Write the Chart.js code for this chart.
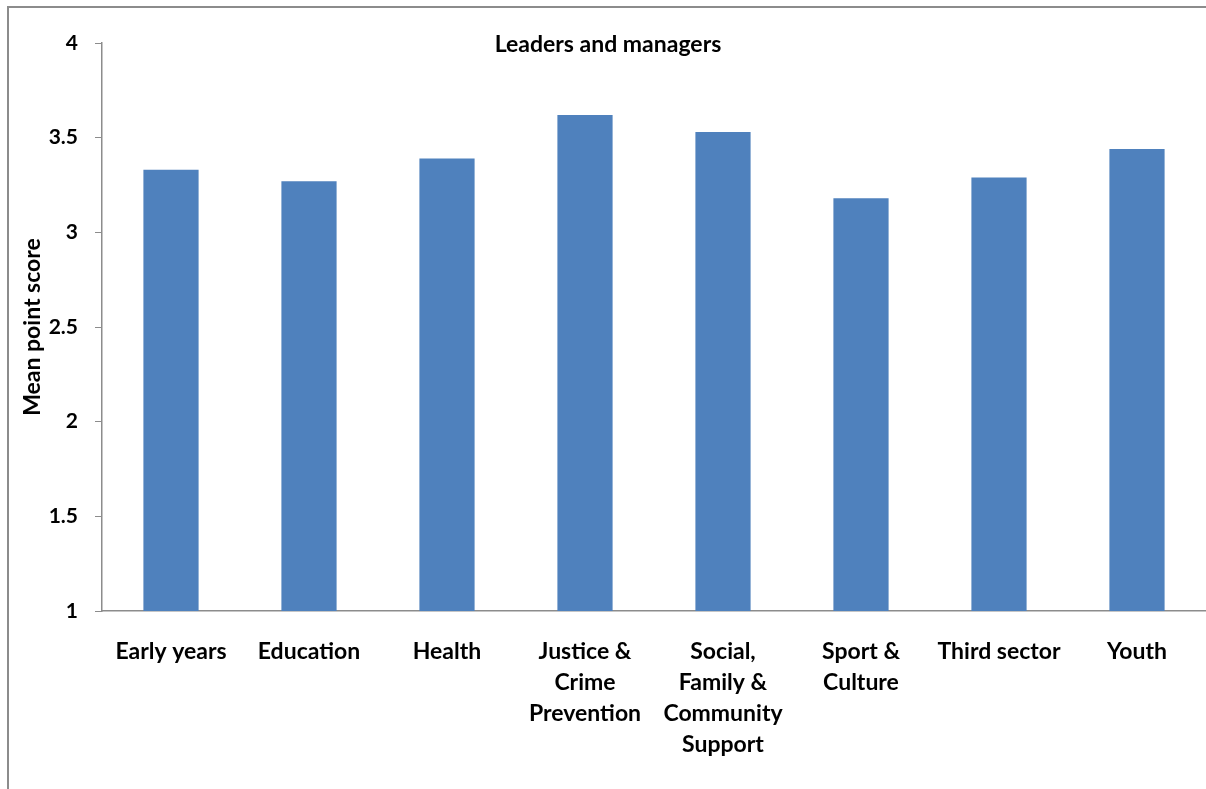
<!DOCTYPE html>
<html>
<head>
<meta charset="utf-8">
<script src="https://cdn.jsdelivr.net/npm/chart.js@4"></script>
<style>
    html, body { margin: 0; padding: 0; background: #fff; }
    .frame {
        position: absolute;
        left: 7px;
        top: 6px;
        width: 1199px;
        height: 783px;
        border-left: 2px solid #8c8c8c;
        border-top: 2px solid #8c8c8c;
    }
    .chart-box { position: absolute; left: 0; top: 0; width: 1197px; height: 781px; }
</style>
</head>
<body>
<div class="frame">
    <div class="chart-box"><canvas id="scoreChart"></canvas></div>
</div>
<script>
// Sectors along the x axis
const categories = [
    'Early years',
    'Education',
    'Health',
    ['Justice &', 'Crime', 'Prevention'],
    ['Social,', 'Family &', 'Community', 'Support'],
    ['Sport &', 'Culture'],
    'Third sector',
    'Youth'
];
// Mean point score for leaders and managers
const meanScores = [3.33, 3.27, 3.39, 3.62, 3.53, 3.18, 3.29, 3.44];
const yTicks = [1, 1.5, 2, 2.5, 3, 3.5, 4];
const chartTitle = 'Leaders and managers';
const yTitle = 'Mean point score';

const fontFamily = 'Lato, "Open Sans", sans-serif';
const axisColor = '#8c8c8c';

// Draw the title inside the plot, level with the top tick
const titlePlugin = {
    id: 'innerTitle',
    afterDraw(chart) {
        const ctx = chart.ctx;
        ctx.save();
        ctx.font = `bold 23px ${fontFamily}`;
        ctx.fillStyle = '#000';
        ctx.textAlign = 'center';
        ctx.textBaseline = 'middle';
        ctx.fillText(chartTitle, 599, 37);
        ctx.restore();
    }
};

const ctx = document.getElementById('scoreChart').getContext('2d');
new Chart(ctx, {
    type: 'bar',
    data: {
        labels: categories,
        datasets: [{
            data: meanScores,
            backgroundColor: '#4f81bd',
            borderWidth: 0,
            barPercentage: 0.4,
            categoryPercentage: 1
        }]
    },
    options: {
        responsive: true,
        maintainAspectRatio: false,
        animation: false,
        layout: { padding: { top: 35, right: 0, bottom: 0, left: 0 } },
        plugins: {
            legend: { display: false },
            tooltip: { enabled: false }
        },
        scales: {
            x: {
                grid: { display: false, drawTicks: false },
                border: { color: axisColor, width: 1.5 },
                ticks: {
                    color: '#000',
                    padding: 25,
                    maxRotation: 0,
                    autoSkip: false,
                    font: { family: fontFamily, size: 23, weight: 'bold', lineHeight: 1.35 }
                },
                afterFit(scale) { scale.height = 178; }
            },
            y: {
                min: 1,
                max: 4,
                afterBuildTicks(scale) {
                    scale.ticks = yTicks.map(v => ({ value: v }));
                },
                grid: {
                    drawOnChartArea: false,
                    drawTicks: true,
                    tickLength: 7,
                    color: axisColor
                },
                border: { color: axisColor, width: 1.5 },
                ticks: {
                    color: '#000',
                    padding: 17,
                    callback: (value) => String(value),
                    font: { family: fontFamily, size: 21, weight: 'bold' }
                },
                title: {
                    display: true,
                    text: yTitle,
                    color: '#000',
                    padding: { top: 10, bottom: 0 },
                    font: { family: fontFamily, size: 23, weight: 'bold' }
                },
                afterFit(scale) { scale.width = 93; }
            }
        }
    },
    plugins: [titlePlugin]
});
</script>
</body>
</html>
